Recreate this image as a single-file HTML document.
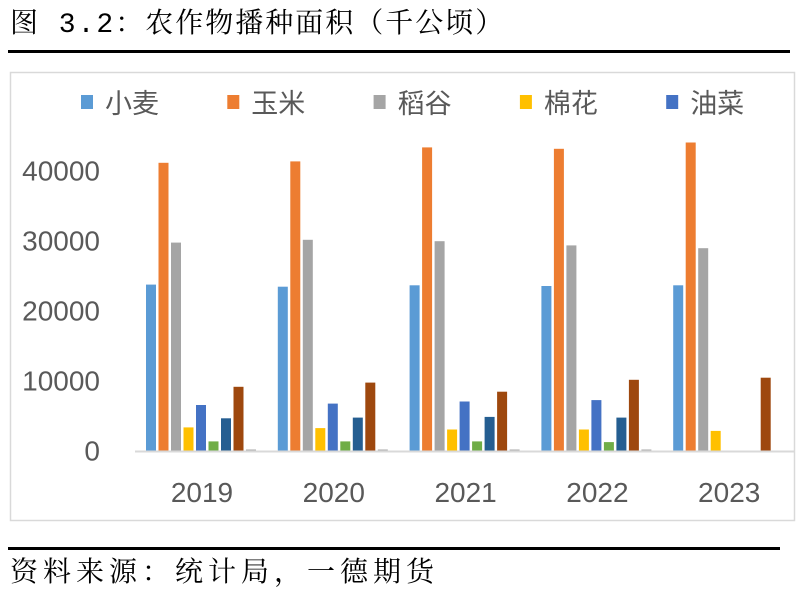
<!DOCTYPE html>
<html><head><meta charset="utf-8"><style>
body{margin:0;width:807px;height:596px;background:#fff;overflow:hidden;position:relative;font-family:"Liberation Sans","Noto Sans CJK SC",sans-serif}
.t{position:absolute;font-family:"Liberation Mono","Noto Serif CJK SC",serif;font-size:28px;color:#000;white-space:nowrap;line-height:1}
</style></head><body>
<div class="t" style="left:10px;top:12px;letter-spacing:2px">图 3.2：农作物播种面积（千公顷）</div>
<div style="position:absolute;left:8px;top:50px;width:782px;height:3px;background:#000"></div>
<svg id="c" width="807" height="596" style="position:absolute;left:0;top:0"></svg>
<div style="position:absolute;left:8px;top:547px;width:772px;height:3px;background:#000"></div>
<div class="t" style="left:10px;top:561px;letter-spacing:5px">资料来源：统计局，一德期货</div>
<script>
const years=["2019","2020","2021","2022","2023"];
const seriesNames=["小麦","玉米","稻谷","棉花","油菜","s6","s7","s8","s9"];
const colors=["#5b9bd5","#ed7d31","#a5a5a5","#ffc000","#4472c4","#70ad47","#255e91","#9e480e","#b0b0b0"];
const s0=[23700,23400,23600,23500,23600];
const s1=[41100,41300,43300,43100,44000];
const s2=[29700,30100,29900,29300,28900];
const s3=[3300,3200,3000,3000,2800];
const s4=[6500,6700,7000,7200,0];
const s5=[1300,1300,1300,1200,0];
const s6=[4600,4700,4800,4700,0];
const s7=[9100,9700,8400,10100,10400];
const s8=[150,150,150,150,0];
const series=[s0,s1,s2,s3,s4,s5,s6,s7,s8];
const yTicks=[0,10000,20000,30000,40000];
const NS="http://www.w3.org/2000/svg";
const svg=document.getElementById('c');
const y0=450.5,pxPer=0.007;
const Y=v=>y0-v*pxPer;
const groupX=i=>202+i*131.8;
const barW=10,pitch=12.5;
function mk(t,a){const e=document.createElementNS(NS,t);for(const k in a)e.setAttribute(k,a[k]);svg.appendChild(e);return e;}
const fr=mk('rect',{x:10.5,y:72.5,width:784,height:448,fill:'none',stroke:'#d9d9d9','stroke-width':1.5});


yTicks.forEach(v=>{const t=mk('text',{x:100,y:Y(v)+10,'text-anchor':'end','font-size':28,fill:'#595959','font-family':'Liberation Sans, sans-serif'});t.textContent=v;

});
series.forEach((s,j)=>s.forEach((v,i)=>{if(v<=0)return;const x=groupX(i)-56+j*pitch;const r=mk('rect',{x:x,y:Y(v),width:barW,height:y0-Y(v),fill:colors[j]});

}));
const ax=mk('line',{x1:135,x2:795,y1:451.5,y2:451.5,stroke:'#d9d9d9','stroke-width':2});


years.forEach((yr,i)=>{const t=mk('text',{x:groupX(i),y:502,'text-anchor':'middle','font-size':28,fill:'#595959','font-family':'Liberation Sans, sans-serif'});t.textContent=yr;

});
for(let j=0;j<5;j++){const lx=81+j*146.3;
const sq=mk('rect',{x:lx,y:95,width:12,height:14,fill:colors[j]});


const t=mk('text',{x:lx+24,y:113,'font-size':27,fill:'#595959','font-family':'Liberation Sans, Noto Sans CJK SC, sans-serif'});t.textContent=seriesNames[j];

}
</script>
</body></html>
